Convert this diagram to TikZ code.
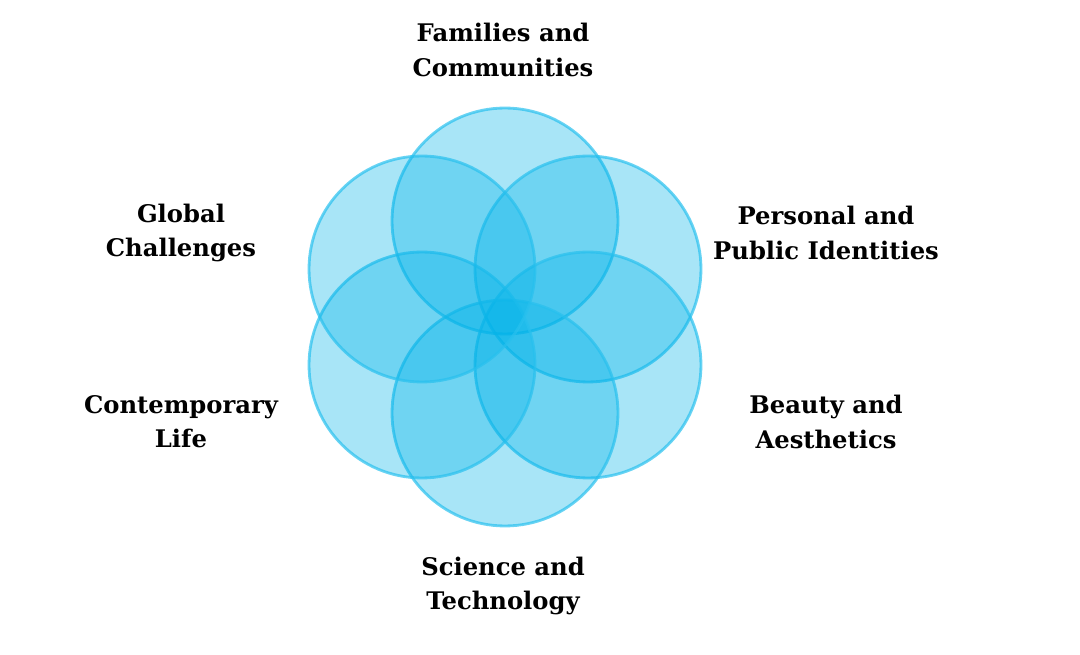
\documentclass[tikz,border=0pt]{standalone}
\usepackage{fontspec}
\setmainfont{DejaVu Serif}
\usepackage{tikz}
\usetikzlibrary{positioning}
\definecolor{petal}{RGB}{0,178,232}
\definecolor{petalline}{RGB}{40,192,238}

\begin{document}
\begin{tikzpicture}[x=0.02cm, y=-0.02cm, every node/.style={font=\bfseries\fontsize{13.8}{19.4}\selectfont}]
\tikzstyle{ring}=[circle, minimum size=4.52cm, inner sep=0pt, fill=petal, fill opacity=0.34, draw=petalline, draw opacity=0.7, line width=1.6pt]
\tikzstyle{theme}=[align=center, text=black]
\useasboundingbox (0,0) rectangle (1080,655);
% six overlapping circles
\node[ring] (fam) at (505,221) {};
\node[ring] (per) at (588,269) {};
\node[ring] (bea) at (588,365) {};
\node[ring] (sci) at (505,413) {};
\node[ring] (con) at (422,365) {};
\node[ring] (glo) at (422,269) {};
% labels
\node[theme] (lfam) at (503,50) {Families and\\Communities};
\node[theme] (lper) at (826,233) {Personal and\\Public Identities};
\node[theme] (lbea) at (826,422) {Beauty and\\Aesthetics};
\node[theme] (lsci) at (503,586) {Science and\\Technology};
\node[theme] (lcon) at (181,422) {Contemporary\\Life};
\node[theme] (lglo) at (181,233) {Global\\Challenges};
\end{tikzpicture}
\end{document}
